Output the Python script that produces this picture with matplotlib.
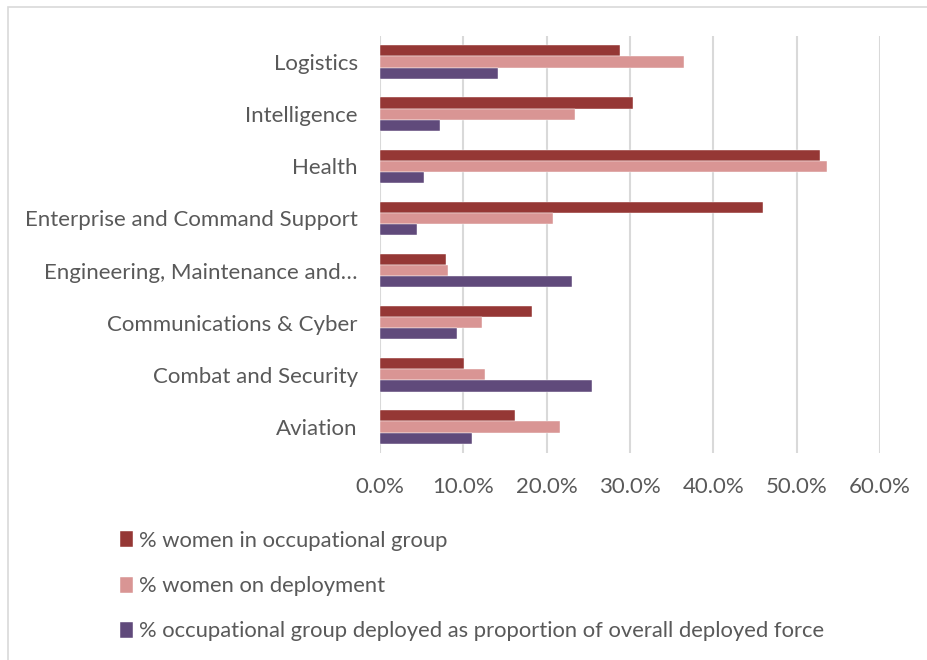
import matplotlib
matplotlib.use("Agg")
import matplotlib.pyplot as plt
from matplotlib.patches import Rectangle
from matplotlib.ticker import FuncFormatter
import numpy as np

categories = ["Aviation", "Combat and Security", "Communications & Cyber",
              "Engineering, Maintenance and…", "Enterprise and Command Support",
              "Health", "Intelligence", "Logistics"]
women_in_group = [16.2, 10.1, 18.2, 7.9, 46.0, 52.8, 30.4, 28.75]
women_on_deployment = [21.6, 12.6, 12.3, 8.2, 20.8, 53.6, 23.4, 36.5]
group_deployed_share = [11.1, 25.4, 9.3, 23.1, 4.5, 5.3, 7.2, 14.2]
series_names = ["% women in occupational group", "% women on deployment",
                "% occupational group deployed as proportion of overall deployed force"]
colors = ["#953735", "#D99594", "#604A7B"]
x_ticks = [0, 10, 20, 30, 40, 50, 60]

plt.rcParams['font.family'] = ['Lato', 'DejaVu Sans']
text_color = "#595959"
fs = 16

fig = plt.figure(figsize=(9.28, 6.6), dpi=100)
W, H = 928, 660
ax = fig.add_axes([380 / W, 1 - 453 / H, 500 / W, 417 / H])

y = np.arange(len(categories))
h = 0.215
series = [women_in_group, women_on_deployment, group_deployed_share]
offsets = [h, 0, -h]
for vals, off, c, name in zip(series, offsets, colors, series_names):
    ax.barh(y + off, vals, height=h, color=c, label=name, zorder=3,
            edgecolor="white", linewidth=0.3)

ax.set_xlim(0, 60)
ax.set_ylim(-0.5, len(categories) - 0.5)
ax.set_xticks(x_ticks)
ax.xaxis.set_major_formatter(FuncFormatter(lambda v, p: f"{v:.1f}%"))
ax.set_yticks(y)
ax.set_yticklabels(categories)
ax.tick_params(axis='both', length=0, colors=text_color, labelsize=fs)
ax.tick_params(axis='x', pad=17)
ax.tick_params(axis='y', pad=16)
ax.grid(axis='x', color="#D9D9D9", linewidth=1.5, zorder=0)
for s in ax.spines.values():
    s.set_visible(False)

handles, labels = ax.get_legend_handles_labels()
leg = fig.legend(handles, labels, loc="upper left",
                 bbox_to_anchor=(120 / W, 1 - 531 / H), frameon=False,
                 fontsize=15.8, labelcolor=text_color, handlelength=0.6,
                 handleheight=0.75, handletextpad=0.25, labelspacing=1.15,
                 borderpad=0, borderaxespad=0)

fig.patches.append(Rectangle((8 / W, -0.2), 1.2, 1.2 - 7 / H, transform=fig.transFigure,
                             fill=False, edgecolor="#D9D9D9", linewidth=1.2))

fig.savefig("out.png", dpi=100, facecolor="white")
